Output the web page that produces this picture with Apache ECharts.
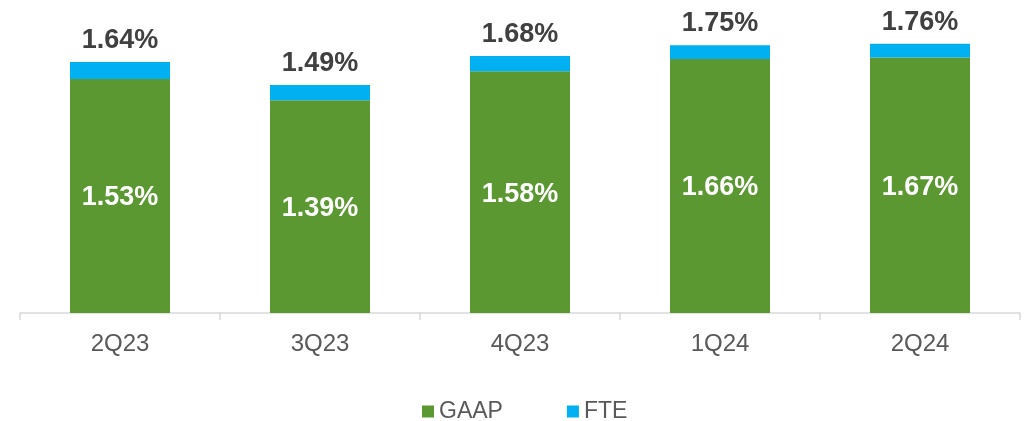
<!DOCTYPE html>
<html><head><meta charset="utf-8">
<script src="https://cdn.jsdelivr.net/npm/echarts@6/dist/echarts.min.js"></script>
<style>html,body{margin:0;padding:0;background:#fff}#c{width:1031px;height:421px}</style>
</head><body><div id="c"></div>
<script>
var categories = ['2Q23','3Q23','4Q23','1Q24','2Q24'];
var gaap = [1.53, 1.39, 1.58, 1.66, 1.67];
var totals = [1.64, 1.49, 1.68, 1.75, 1.76];
var fte = totals.map(function(t,i){ return +(t - gaap[i]).toFixed(2); });
var chart = echarts.init(document.getElementById('c'));
var font = 'Liberation Sans, Arial, sans-serif';
chart.setOption({
  animation: false,
  textStyle: {fontFamily: font},
  grid: {left: 20, right: 11, top: 7, bottom: 108},
  legend: {
    left: 417, top: 395, itemWidth: 12, itemHeight: 12, itemGap: 64,
    icon: 'rect',
    textStyle: {fontSize: 23, color: '#595959', fontFamily: font},
    data: ['GAAP','FTE']
  },
  xAxis: {
    type: 'category', data: categories,
    axisLine: {lineStyle: {color: '#d9d9d9', width: 1.5}},
    axisTick: {show: true, length: 7, lineStyle: {color: '#d9d9d9', width: 1.5}},
    axisLabel: {fontSize: 24, color: '#595959', margin: 19, fontFamily: font}
  },
  yAxis: {type: 'value', min: 0, max: 2, show: false, splitLine: {show: false}},
  series: [
    {name: 'GAAP', type: 'bar', stack: 's', data: gaap, barWidth: '50%',
     itemStyle: {color: '#5B9832'},
     label: {show: true, position: 'inside', offset: [0, 2], color: '#fff', fontWeight: 'bold', fontSize: 27, fontFamily: font,
       formatter: function(p){ return p.value.toFixed(2) + '%'; }}},
    {name: 'FTE', type: 'bar', stack: 's', data: fte, barWidth: '50%',
     itemStyle: {color: '#00B0F0'},
     label: {show: true, position: 'top', distance: 8, color: '#404040', fontWeight: 'bold', fontSize: 27, fontFamily: font,
       formatter: function(p){ return totals[p.dataIndex].toFixed(2) + '%'; }}}
  ]
});
</script></body></html>
